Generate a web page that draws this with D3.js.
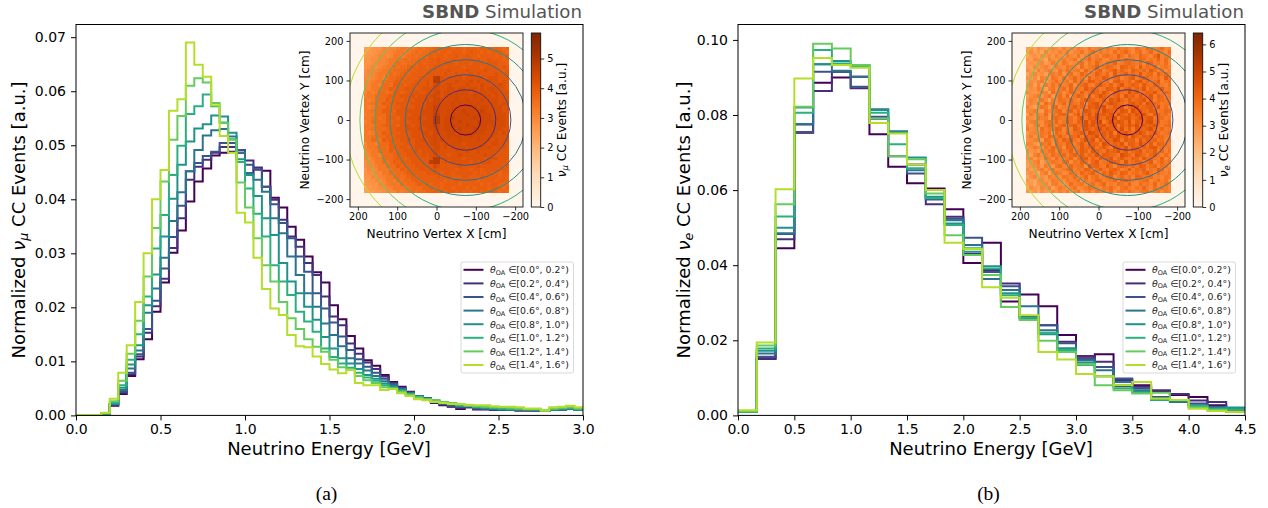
<!DOCTYPE html>
<html><head><meta charset="utf-8">
<script src="https://d3js.org/d3.v7.min.js"></script>
<style>html,body{margin:0;padding:0;background:#fff}svg{display:block}text{font-family:"DejaVu Sans",sans-serif;fill:#000}</style>
</head><body><svg id="c" width="1268" height="508"></svg>
<script>
// values are in units of 1e-3 (histogram heights)
const numu0=[.05,.05,.05,.25,1.8,3.95,7.3,10.4,14.1,19.2,24.6,30.1,34.2,39.6,43.3,45.7,48.1,48.6,48.8,48.6,44.8,45.5,45.3,40.3,38.5,34.9,32.5,29.4,26.5,24.6,20.4,17.8,14.7,12.4,10.2,9.2,7.5,6.2,5.3,4.4,3.6,3.2,2.3,1.9,1.6,1.2,1.5,1.1,1.1,1,1,1,.9,.9,.9,.8,1,1.1,1.2,1];
const numu1=[.05,.05,.05,.27,1.9,4.2,7.6,10.9,15.3,20.2,25.3,31,36.5,43.6,46,47.3,48.6,49.7,49.7,49.1,47.2,45.9,42.3,39.9,36.2,33.1,31.2,28.2,26,22,18.3,16.7,13.3,11.4,9.8,8.6,7.2,6,5.1,4.3,3.6,3.2,2.4,2,1.7,1.4,1.5,1.2,1.2,1.1,1,1,.9,.9,.9,.8,1,1.1,1.2,1];
const numu2=[.05,.05,.05,.28,2,4.4,7.9,11.3,16,21.2,27.2,33,38.8,45.2,46.7,48,48.8,50.4,50.4,49.1,46.4,45.5,42.3,39.1,35.6,32.8,29.4,26.6,22.6,19.8,17.2,14.6,12.1,10.4,9,7.9,6.8,5.8,5,4.2,3.6,3.2,2.5,2.1,1.8,1.5,1.6,1.3,1.2,1.1,1.1,1,1,1,.9,.8,1,1.1,1.2,1];
const numu3=[.05,.05,.05,.3,2.1,4.7,8.7,12,19,23.5,29.2,36,41.3,45.2,49.1,51.8,52.8,53,51.6,48.6,44.8,43.6,41.4,36.5,33.7,29.4,26,22.6,20.1,17,14.9,12.8,10.6,9.6,8.3,7.3,6.3,5.6,4.9,4.1,3.5,3.1,2.6,2.2,2,1.7,1.7,1.4,1.3,1.2,1.1,1.1,1,1,1,.8,1,1.1,1.3,1];
const numu4=[.05,.05,.05,.33,2.2,5.1,9.4,13,20.4,26.1,33.1,40.1,46.4,50.7,53.1,53.9,55.5,55.3,52.3,47.4,44.5,40.6,36.5,33.4,28.2,24.8,22.6,20.1,17.7,14.5,12.4,10.6,9.6,8.6,7.5,6.8,5.9,5.3,4.7,4,3.5,3.1,2.7,2.4,2.1,1.8,1.8,1.5,1.4,1.3,1.2,1.1,1.1,1.1,1,.8,1.1,1.2,1.3,1.1];
const numu5=[.05,.05,.05,.36,2.4,5.6,10.3,15,22,30.9,37.1,44.5,49.9,55.8,57.2,59.4,57.2,54.2,51.1,46.9,42,37.3,33.1,27.8,24.8,22.3,19.2,17.4,15.5,12.4,10.8,9.6,8.8,7.9,7,6.4,5.6,5.1,4.5,3.9,3.4,3,2.8,2.5,2.2,1.9,1.8,1.6,1.5,1.4,1.3,1.2,1.2,1.1,1.1,.9,1.2,1.3,1.4,1.2];
const numu6=[.05,.05,.05,.4,2.6,6.4,11.4,17.5,25.7,34.7,43.3,51,55.4,61,62.4,61.6,57.8,54.1,51,43.1,38.5,32.8,27.8,24.8,21,18,16,14.1,12.7,11.8,10.3,8.9,8.4,7.3,6.5,6,5.2,5,4.4,3.8,3.3,3,2.8,2.5,2.3,2,1.9,1.7,1.6,1.5,1.5,1.4,1.3,1.2,1.2,.9,1.3,1.4,1.5,1.3];
const numu7=[.08,.08,.08,.5,3.1,7.9,13,21,30,40,45.4,56.4,58.5,69,64.9,62.7,57.4,51.7,48.6,37.5,35.7,29.2,23.4,19.8,18.6,14.9,12.8,12.6,10.9,9.5,8.5,7.8,8.4,6,5.6,5.6,4.7,4.9,4.1,3.6,3,2.8,2.5,2.3,2.1,2.1,1.9,1.9,1.9,1.7,1.6,1.6,1.5,1.3,1.3,.9,1.5,1.6,1.8,1.5];
const nue0=[.9,15.2,44.5,75.3,88.6,90,90.2,74.9,66.2,61.8,60.4,54.9,40.6,46,30.3,32.2,29.1,21.4,15.2,16.3,7.8,8,6.5,5.4,4.9,2.7,1];
const nue1=[1,15,46.9,77.5,86.4,91.5,87.1,79,69,66.8,56.2,52.9,43,38.7,35.1,26.3,24,19.6,15.8,14.3,9.4,7.6,6.7,5.7,4,3.6,1];
const nue2=[1,15.6,48.3,75.5,91.5,91.5,87.5,79.5,75.4,64.4,57.5,52.4,47.3,38.2,34.4,26,24,19.2,15,12.9,9.8,7.2,4.9,3.9,3.2,2.3,1.2];
const nue3=[1,16.5,48.5,77.6,93.5,91.8,90.2,81.5,75.7,65.3,57.8,52,45.4,36.3,33.4,29.1,22.7,17.8,14.6,12,8.9,6.7,4.2,3.6,2.7,2.1,1.8];
const nue4=[1,17.2,50,82,93.5,94.4,93.3,81.3,75.5,68.7,58.2,51.1,43.6,39.7,32.5,25.8,21.6,17.8,14,10.4,8,6.3,4.1,3.9,2.3,1.8,2.1];
const nue5=[1,17.8,53,80.6,97.3,93.7,92.9,80.6,72.2,65.8,57.8,50.7,44.5,39.1,32,26,22,17.4,13.4,10.4,7.2,6,4.2,4.1,2.5,1.8,1.6];
const nue6=[1.1,18.6,56.2,82.2,99,97.7,93.3,79.1,69,68.2,59.1,48,42.7,37.4,28.9,25.4,19.9,16.9,13.6,8,6.7,5.8,6,4.1,2.1,1.4,.9];
const nue7=[1.4,19.4,60.2,89.7,95.2,93.3,92.6,77.9,75.1,66.8,60,46,44.3,34.1,31.3,26.7,16.9,14.9,11,10.4,8,8.9,4.5,4.1,1.8,1.2,1];
const angleLabels=["[0.0°, 0.2°)","[0.2°, 0.4°)","[0.4°, 0.6°)","[0.6°, 0.8°)","[0.8°, 1.0°)","[1.0°, 1.2°)","[1.2°, 1.4°)","[1.4°, 1.6°)"];
const ringRadii=[38.4,76.8,115.2,153.6,192,230.4,268.8,307.2];
const numuTicksX=[0,.5,1,1.5,2,2.5,3], nueTicksX=[0,.5,1,1.5,2,2.5,3,3.5,4,4.5];
const numuTicksY=[0,10,20,30,40,50,60,70], nueTicksY=[0,20,40,60,80,100];
const insetTicks=[200,100,0,-100,-200];
// vertex maps: each letter is a base-36 number, in steps of 0.14 a.u.; 40 rows of 40 cells
const numuMap=[
"ijkkkmlmmn oonopqpqqr srssrssrss srsssrsrqr","jjkklmmmno onopqpqqrs rssrsssrst ssrsrsssrq","jkklmmlmoo nopqpqqrsr ssrsstssts srssssrsrs","kkllmmnooo pqpqqrsrss tssstsstst stsstsssrs",
"kklmmmnooq ppqqrsrsss tstttsttts tttstttssr","klmlmnooqp qqrsrssrst ttsttttstt ttsttttsts","lmmmnoopqq qrsrsssstt tttuttttut tttuttttst","lmmnoooqpq rsrssssttt ttuttutttu tuttttuttt",
"mlmnonpqqr srssstttty zutuuuutuu uuutuuuttt","mmnoopqqrs rssstttutz zuuuuvuuuv uvuuuuutut","mmoonqqpss srsttttutv vuuvuuuuvu uuvuuuuvut","nmoopqqsrs stttttuuuv vuuvvuvvuv vuvuvvuuut",
"monoqqpqss rsttuttuuv wuvvuvvvvu vvvvuvvuuu","nooqqqrsss tttutuuuvw vuvvvwvvvv wvvvvuvuuu","onoqqqsrss stttuuuvuw wvvvvwvvwv vvwvvvvuuu","oopqqsrsst tttuuuuvvw wvvvwvwvvw vwvvvvvuvu",
"onoqqqsrss ttttuuuvvx wvvvwwvwww wvwwvvvvuu","oopqqsssrt ttuuuuvvvx wvvwwwwxww wwxwvvvvuu","nooqqqsrst tttuuuvvvx xvvwwwwwxw wxwwwvvvvu","oopqpqsssr ttuuuvuvvz zvwwxwwwww xwwwwvwvvu",
"noqqqqsrss tttuuuvvvz zvwwwwxwww wxwwwwvvvu","oooqqrsssr tuutuuvvvx wvwwxwwwxw wwwwvwvvvu","oopqqqrsst ttuuuvuvvw wvwwwwxwww xwwwvvvvuu","onoqqsrsss tttuuuvvuw wvvwwvwwww wwwvvvvuvu",
"oopqqqsrst tttuuuuvvw vvvwvwwvvw vwvvvvuuuu","ooqqpsrsss ttutuuvuvw vwvvvvwvvv vwvvvuvuuu","moonqqqsrs stttuuuuvw vuvvvvvuvv vvvvuvvuut","moopqqpsss ttstuuuuuv vuvuvuvvuv vuvuvuuuut",
"mnooqqqsrs stttutuuuv vuuuuvuuvu uvuuuuuttt","mmoonqqqrs ssttttutuv uuutuuvuuu uuuvuutttt","mlnooqqqrs srstttttuz zuuuuuutuu uuutuuuttt","lmmooqpqsr ssstttttyz ztutuuuuut utuuutttts",
"lmmnooqqqs rssstttttv utttttuttt tuttttttst","kmlmooopqq srsssttttu tttttsttts ttsttttsts","kllmmooqpq qrsssssttt tsttsttttt stsstssrss","kkmlmnooqq pqrsrsssss tsstssstts sstssssrsr",
"jkkmlmoonq pqqrsrssss ssrsstssss srssssrssr","jkkkmmnooo qpqqrsrsrs srssssrsss ssrsrssrrq","ijkkllmmoo oopqqqrrsr srssrsssrs rsssrssrqr","ijjkklmmmo nooqpqqrrs rsrssrsrsr ssrsrsrqrq"];
const nueMap=[
"kmjnlkmonl pmonqonrop qnrposqrpo sqotrpqsop","lnkmjolnmp nqmoprnqso rpqosprtqn rsoqtprqos","jlmknmolpn mqonrmpsoq nrsqpurosq ptrqoswprq","mkonljpnmo qnprmoqtpr sonrqsptqr otsprqupso",
"kmlnokmqon rpmoqsnrpt qosrupqstr qsoutqrpsn","lkomnpmlqo nrqpmsoqru prtsqoutrs pvqsrtoqrp","nlkpmoqnmr ospqrntqos uprsvqtrpu srtqvsproq","jmolnkpqor mqsnptroqu sqtpvrsuqt rwqstpursq",
"mlnjpomrqn soqtprnuqs rvtqsuprtv qsutrqspvr","knmoqlnpso qrntpsqvur tqsouvsrtq uwrtqsvprs","mokplqnros pqtnrsuqpt vsruqtwrsu tqvsrutqps","lnmqokprnq sotprqvsut qrvusxqtvr uswqtrsvqr",
"omlnqpksor nqtrpuqsvt rwtqvusrxt vqsutwrqts","knoqmprlqs otnruspvqt xusrtvqwtu rvstwquspr","mpnlrokqos rptqosvutr svqwuxtrvs tuwrvqtsrq","lonqmsprnq tpsrquotvw sruxvtsquw tvrxutsqrs",
"pmkorqlstn qpsurtqvuw txrsvuwqtv xstuvrwqsp","noqmlrpqst oruqtpwvsu rxvutswvqx uwtsvuqrts","kqnposmrqt urpsvqtwsx uvtwrxusvt wuxsqvtrsq","onmrpqlstr qusptwrvux tswvxquvws uxtvwrtsqr",
"mpqonrsqtp rvsqutxswv yqtxuwvsxr vutwxsuqrs","olprnqtrps uqtvrsxuwt vwsuxqvtwu xsvtuwrqst","qnomsprqut ospvtrwusv xtwuvsxrvq wutvxsrtqr","lopnrqsmtr puqstvrxwu svtwqxuwts vxurtwsqrs",
"nqmprotsqu rptsvqwtux rvswuxtvqw tsvuwrtsqp","mnpqlsrotq usvrptxuwq vsutxwrvtu qwsvtursps","pomkrqsntr qutpsvrwut qxvsutwqvu sxtrvqutrq","lnqomrptqs nutrqvsuwr tvsqwutxrv tqusvwrsqr",
"omnlqprsot qrupsvtqwu srvtuxsvqt uwrtsvqtps","mkprnqosqr tpsuqvrtsw qvutsqxvtr wusqtvrpsq","nplomrqnsp qrtosuvqtr vsuwqtvsru tqvstrquor","lmoqknprqo stnrqusptv qrsvutqwrs utqsvprtqs",
"kmnplqomrs optqrsnvtu rqvsptusqt rvuqstpsro","nkloqmprno qstprqutos vrqtusprvq tsuprqvsoq","lnmjoqkprq nosqptrsuq otrvsqutpr sqtvrpsqpr","jmoknlqopn rqpsnqtors pqsuortqsp utqrspqorq",
"mkjnolmqpo nrpqsnroqt spqrtosurq prstoqsprn","kljmnokpqn mospqrnqsp rtoqpsrqtp osqrptoqsp","jnlkompknq omprnoqsqp orqspnrsqo rptqosprqo","lkmjnlkomp nqlprmoqnr pqosnqrpsq oqrsoprnqp"];

const svg=d3.select("#c");
const lineColor=i=>d3.interpolateViridis(i*0.127);
const W=507,TOP=24.5,BOT=415.4;
function drawPanel(o){
  const g=svg.append("g");
  const x=d3.scaleLinear().domain([0,o.xMax]).range([o.left,o.left+W]);
  const y=d3.scaleLinear().domain([0,o.yMax]).range([BOT,TOP]);
  const line=d3.line().curve(d3.curveStepAfter).x(d=>x(d[0])).y(d=>y(d[1]));
  const clipId="clip"+o.left;
  svg.append("clipPath").attr("id",clipId).append("rect").attr("x",o.left).attr("y",TOP).attr("width",W).attr("height",BOT-TOP);
  o.series.forEach((vals,i)=>{
    const pts=[];
    vals.forEach((v,k)=>pts.push([k*o.binW,v]));
    pts.push([vals.length*o.binW,vals[vals.length-1]]);
    g.append("path").attr("d",line(pts)).attr("fill","none").attr("stroke",lineColor(i)).attr("stroke-width",2)
      .attr("clip-path",`url(#${clipId})`);
  });
  g.append("rect").attr("x",o.left).attr("y",TOP).attr("width",W).attr("height",BOT-TOP).attr("fill","none").attr("stroke","#000").attr("stroke-width",1);
  const ax=g.append("g").attr("transform",`translate(0,${BOT})`).call(d3.axisBottom(x).tickValues(o.ticksX).tickFormat(d3.format(".1f")).tickSize(5).tickPadding(4));
  const ay=g.append("g").attr("transform",`translate(${o.left},0)`).call(d3.axisLeft(y).tickValues(o.ticksY).tickFormat(d=>d3.format(".2f")(d/1000)).tickSize(5).tickPadding(5));
  [ax,ay].forEach(a=>{a.select(".domain").remove();a.selectAll("text").attr("font-size",o.tick).style("font-family",'"DejaVu Sans"');a.selectAll("line").attr("stroke","#000");});
  g.append("text").attr("x",o.left+W/2-0.5).attr("y",455).attr("text-anchor","middle").attr("font-size",18).text("Neutrino Energy [GeV]");
  const yl=g.append("text").attr("transform",`translate(${o.left+o.ylabelDx},220) rotate(-90)`).attr("text-anchor","middle").attr("font-size",18);
  yl.append("tspan").text("Normalized ");
  yl.append("tspan").attr("font-style","italic").text("ν");
  yl.append("tspan").attr("font-style","italic").attr("font-size",12.6).attr("dy",3).text(o.flavour);
  yl.append("tspan").attr("dy",-3).text(" CC Events [a.u.]");
  const h=g.append("text").attr("x",o.left+W-1).attr("y",18).attr("text-anchor","end").attr("font-size",18.2).style("fill","#555");
  h.append("tspan").attr("font-weight","bold").style("fill","#555").text("SBND");
  h.append("tspan").style("fill","#555").text(" Simulation");
  g.append("text").attr("x",o.left+W/2-3).attr("y",500).attr("text-anchor","middle").attr("font-size",19.5).style("font-family",'"Liberation Serif"').text(o.caption);
  const lx=o.left+385,ly=262;
  g.append("rect").attr("x",lx).attr("y",ly).attr("width",112.5).attr("height",111).attr("rx",2).attr("fill","#fff").attr("fill-opacity",.8).attr("stroke","#d9d9d9").attr("stroke-width",1);
  angleLabels.forEach((lab,i)=>{
    const yy=ly+7.8+13.6*i;
    g.append("line").attr("x1",lx+2.5).attr("x2",lx+22.5).attr("y1",yy).attr("y2",yy).attr("stroke",lineColor(i)).attr("stroke-width",2);
    const t=g.append("text").attr("x",lx+29).attr("y",yy+3.3).attr("font-size",9.4).style("fill","#222");
    t.append("tspan").attr("font-style","italic").text("θ");
    t.append("tspan").attr("font-size",6.5).attr("dy",1.6).text("OA");
    t.append("tspan").attr("dy",-1.6).text(" ∈"+lab);
  });
  const ix0=o.left+274,ix1=o.left+447,iy0=33,iy1=207;
  const ix=d3.scaleLinear().domain([220,-220]).range([ix0,ix1]);
  const iy=d3.scaleLinear().domain([220,-220]).range([iy0,iy1]);
  const col=v=>d3.interpolateOranges(v/o.vMax);
  g.append("rect").attr("x",ix0).attr("y",iy0).attr("width",ix1-ix0).attr("height",iy1-iy0).attr("fill",col(0));
  const step=9.25;
  o.map.forEach((row,r)=>{
    row.replace(/ /g,"").split("").forEach((ch,c)=>{
      const v=parseInt(ch,36)*0.14;
      const xa=185-c*step, ya=185-r*step;
      const xp=Math.round(ix(xa)),xq=Math.round(ix(xa-step)),yp=Math.round(iy(ya)),yq=Math.round(iy(ya-step));
      g.append("rect").attr("x",xp).attr("y",yp).attr("width",xq-xp).attr("height",yq-yp).attr("fill",col(v)).attr("shape-rendering","crispEdges");
    });
  });
  const cid="iclip"+o.left;
  svg.append("clipPath").attr("id",cid).append("rect").attr("x",ix0).attr("y",iy0).attr("width",ix1-ix0).attr("height",iy1-iy0);
  ringRadii.forEach((rad,i)=>{
    g.append("circle").attr("cx",ix(-74)).attr("cy",iy(0)).attr("r",ix(0)-ix(rad)).attr("fill","none").attr("stroke",lineColor(i)).attr("stroke-width",1).attr("clip-path",`url(#${cid})`);
  });
  g.append("rect").attr("x",ix0).attr("y",iy0).attr("width",ix1-ix0).attr("height",iy1-iy0).attr("fill","none").attr("stroke","#111").attr("stroke-width",.9);
  const fmt=d=>String(d).replace("-","\u2212");
  const iax=g.append("g").attr("transform",`translate(0,${iy1})`).call(d3.axisBottom(ix).tickValues(insetTicks).tickFormat(fmt).tickSize(3.5).tickPadding(3));
  const iay=g.append("g").attr("transform",`translate(${ix0},0)`).call(d3.axisLeft(iy).tickValues(insetTicks).tickFormat(fmt).tickSize(3.5).tickPadding(3));
  [iax,iay].forEach(a=>{a.select(".domain").remove();a.selectAll("text").attr("font-size",9.8).style("font-family",'"DejaVu Sans"');a.selectAll("line").attr("stroke","#000").attr("stroke-width",.8);});
  g.append("text").attr("x",(ix0+ix1)/2).attr("y",238).attr("text-anchor","middle").attr("font-size",12.2).text("Neutrino Vertex X [cm]");
  g.append("text").attr("transform",`translate(${ix0-41},${(iy0+iy1)/2}) rotate(-90)`).attr("text-anchor","middle").attr("font-size",12.2).text("Neutrino Vertex Y [cm]");
  const cx0=o.left+455.3,cw=9.4;
  const cy=d3.scaleLinear().domain([0,o.vMax]).range([iy1,iy0]);
  d3.range(0,174).forEach(i=>{
    g.append("rect").attr("x",cx0).attr("y",iy1-i-1).attr("width",cw).attr("height",1.2).attr("fill",col(o.vMax*(i+.5)/174));
  });
  g.append("rect").attr("x",cx0).attr("y",iy0).attr("width",cw).attr("height",iy1-iy0).attr("fill","none").attr("stroke","#111").attr("stroke-width",.9);
  const cax=g.append("g").attr("transform",`translate(${cx0+cw},0)`).call(d3.axisRight(cy).tickValues(d3.range(0,Math.floor(o.vMax)+1)).tickFormat(d3.format("d")).tickSize(3.5).tickPadding(3));
  cax.select(".domain").remove();cax.selectAll("text").attr("font-size",9.8).style("font-family",'"DejaVu Sans"');cax.selectAll("line").attr("stroke","#000").attr("stroke-width",.8);
  const cl=g.append("text").attr("transform",`translate(${cx0+cw+25},${(iy0+iy1)/2}) rotate(-90)`).attr("text-anchor","middle").attr("font-size",12.2);
  cl.append("tspan").attr("font-style","italic").text("ν");
  cl.append("tspan").attr("font-style","italic").attr("font-size",8.5).attr("dy",2).text(o.flavour);
  cl.append("tspan").attr("dy",-2).text(" CC Events [a.u.]");
}
drawPanel({left:76,xMax:3,yMax:72.35,binW:.05,series:[numu0,numu1,numu2,numu3,numu4,numu5,numu6,numu7],ticksX:numuTicksX,ticksY:numuTicksY,tick:14,flavour:"μ",caption:"(a)",map:numuMap,vMax:5.86,ylabelDx:-51});
drawPanel({left:738,xMax:4.5,yMax:104.1,binW:1/6,series:[nue0,nue1,nue2,nue3,nue4,nue5,nue6,nue7],ticksX:nueTicksX,ticksY:nueTicksY,tick:14,flavour:"e",caption:"(b)",map:nueMap,vMax:6.42,ylabelDx:-48});
</script></body></html>
